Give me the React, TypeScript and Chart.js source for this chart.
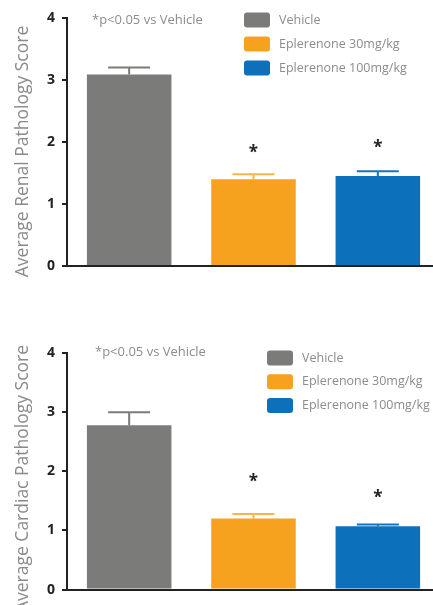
import React, { useEffect, useRef } from "react";
import { Chart, registerables } from "chart.js";

Chart.register(...registerables);

const categories = ["Vehicle", "Eplerenone 30mg/kg", "Eplerenone 100mg/kg"];
const barColors = ["#7b7b79", "#f6a21e", "#0d70bb"];
const errorColors = ["#7b7b79", "#f8b54c", "#1674bd"];
const yTickValues = [0, 1, 2, 3, 4];
const footnoteText = "*p<0.05 vs Vehicle";

const renalTitle = "Average Renal Pathology Score";
const renalMeans = [3.09, 1.4, 1.45];
const renalErrors = [0.11, 0.08, 0.08];
const renalStars = [null, 1.89, 1.97];

const cardiacTitle = "Average Cardiac Pathology Score";
const cardiacMeans = [2.78, 1.2, 1.07];
const cardiacErrors = [0.22, 0.08, 0.03];
const cardiacStars = [null, 1.89, 1.62];

const FONT = "'Open Sans', 'Noto Sans', sans-serif";

const annotPlugin = {
  id: "annot",
  afterDatasetsDraw(chart: any, _args: any, opts: any) {
    const ctx = chart.ctx;
    const meta = chart.getDatasetMeta(0);
    const ys = chart.scales.y;
    meta.data.forEach((bar: any, i: number) => {
      const x = bar.x;
      const top = ys.getPixelForValue(opts.means[i] + opts.errors[i]);
      ctx.save();
      ctx.strokeStyle = errorColors[i];
      ctx.lineWidth = 2;
      ctx.beginPath();
      ctx.moveTo(x, bar.y);
      ctx.lineTo(x, top);
      ctx.moveTo(x - 21, top);
      ctx.lineTo(x + 21, top);
      ctx.stroke();
      const s = opts.stars[i];
      if (s != null) {
        ctx.fillStyle = "#222";
        ctx.font = `bold 17px ${FONT}`;
        ctx.textAlign = "center";
        ctx.textBaseline = "alphabetic";
        ctx.fillText("*", x, ys.getPixelForValue(s) + 9.5);
      }
      ctx.restore();
    });
    ctx.save();
    // axis title
    ctx.save();
    ctx.translate(opts.titleX, opts.titleY);
    ctx.rotate(-Math.PI / 2);
    ctx.fillStyle = "#8a8a8a";
    ctx.font = `17.5px ${FONT}`;
    ctx.textAlign = "center";
    ctx.textBaseline = "alphabetic";
    ctx.fillText(opts.title, 0, 0);
    ctx.restore();
    // footnote
    ctx.fillStyle = "#8c8c8c";
    ctx.font = `13px ${FONT}`;
    ctx.textAlign = "left";
    ctx.textBaseline = "middle";
    ctx.fillText(footnoteText, opts.noteX, opts.noteY);
    // legend
    categories.forEach((c, i) => {
      const cy = opts.legY + i * opts.legGap;
      ctx.fillStyle = barColors[i];
      ctx.beginPath();
      (ctx as any).roundRect(opts.legX, cy - 7.5, 26, 15, 3);
      ctx.fill();
      ctx.fillStyle = "#8c8c8c";
      ctx.font = `12.5px ${FONT}`;
      ctx.fillText(c, opts.legX + 35, cy);
    });
    ctx.restore();
  },
};

type PanelProps = {
  title: string;
  means: number[];
  errors: number[];
  stars: (number | null)[];
  top: number;
  height: number;
  padTop: number;
  padBottom: number;
  titleX: number;
  titleY: number;
  noteX: number;
  noteY: number;
  legX: number;
  legY: number;
  legGap: number;
};

function Panel(p: PanelProps) {
  const ref = useRef<HTMLCanvasElement>(null);
  useEffect(() => {
    const chart = new Chart(ref.current!, {
      type: "bar",
      data: {
        labels: categories,
        datasets: [
          {
            data: p.means,
            backgroundColor: barColors,
            borderWidth: 0,
            categoryPercentage: 1,
            barPercentage: 0.68,
          },
        ],
      },
      options: {
        responsive: false,
        animation: false,
        devicePixelRatio: 1,
        layout: { padding: { top: p.padTop, bottom: p.padBottom, left: 0, right: 1 } },
        plugins: {
          legend: { display: false },
          tooltip: { enabled: false },
          annot: {
            title: p.title,
            means: p.means,
            errors: p.errors,
            stars: p.stars,
            titleX: p.titleX,
            titleY: p.titleY,
            noteX: p.noteX,
            noteY: p.noteY,
            legX: p.legX,
            legY: p.legY,
            legGap: p.legGap,
          },
        } as any,
        scales: {
          x: {
            ticks: { display: false },
            grid: { display: false, drawTicks: false },
            border: { display: true, color: "#222", width: 2 },
            afterFit: (s: any) => {
              s.height = 0;
            },
          },
          y: {
            min: 0,
            max: 4,
            afterBuildTicks: (s: any) => {
              s.ticks = yTickValues.map((v) => ({ value: v }));
            },
            ticks: {
              color: "#222",
              padding: 7,
              font: { family: FONT, size: 14, weight: "bold" },
            },
            grid: {
              display: true,
              drawOnChartArea: false,
              drawTicks: true,
              tickLength: 5,
              color: "#222",
              lineWidth: 2,
            },
            border: { display: true, color: "#222", width: 2 },
            title: { display: false },
            afterFit: (s: any) => {
              s.width = 67;
            },
          },
        },
      },
      plugins: [annotPlugin],
    });
    return () => chart.destroy();
  }, []);
  return (
    <canvas
      ref={ref}
      width={441}
      height={p.height}
      style={{ position: "absolute", left: 0, top: p.top, width: 441, height: p.height }}
    />
  );
}

export default function App() {
  return (
    <div
      style={{
        position: "fixed",
        left: 0,
        top: 0,
        width: 433,
        height: 605,
        overflow: "hidden",
        background: "#fff",
      }}
    >
      <Panel
        title={renalTitle}
        means={renalMeans}
        errors={renalErrors}
        stars={renalStars}
        top={0}
        height={290}
        padTop={18}
        padBottom={24}
        titleX={28}
        titleY={151.5}
        noteX={92}
        noteY={20}
        legX={244}
        legY={20}
        legGap={24}
      />
      <Panel
        title={cardiacTitle}
        means={cardiacMeans}
        errors={cardiacErrors}
        stars={cardiacStars}
        top={320}
        height={285}
        padTop={33}
        padBottom={5}
        titleX={28}
        titleY={158.5}
        noteX={95}
        noteY={32}
        legX={267}
        legY={38}
        legGap={23.7}
      />
    </div>
  );
}
